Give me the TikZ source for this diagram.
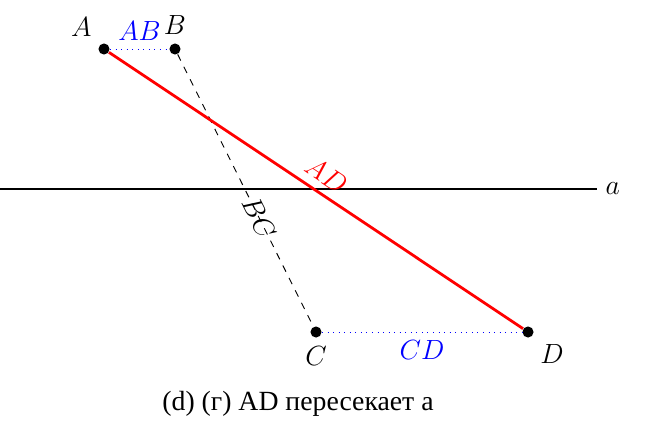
\documentclass[tikz,border=0pt]{standalone}
\usepackage{fontspec}
\newfontfamily\cyrfont{Liberation Serif}

\begin{document}
\begin{tikzpicture}[x=0.0152cm, y=-0.0152cm, font=\large,
  pointdot/.style={circle, fill=black, inner sep=0pt, minimum size=4.8pt}]
  \useasboundingbox (0,0) rectangle (661,429);

  \node (A) [pointdot, label={above left:$A$}] at (104, 49) {};
  \node (B) [pointdot, label={above:$B$}] at (175, 49) {};
  \node (C) [pointdot, label={below:$C$}] at (316, 332) {};
  \node (D) [pointdot, label={below right:$D$}] at (528, 332) {};

  \coordinate (a-start) at (0, 189);
  \coordinate (a-end) at (597, 189);
  \draw[thick] (a-start) -- (a-end) node (a-label) [right] {$a$};

  \draw[blue, dotted] (A) to node[midway, above] {$AB$} (B);
  \draw[dashed] (B) to node[pos=0.6, sloped] {$BC$} (C);
  \draw[blue, dotted] (C) to node[midway, below] {$CD$} (D);
  \draw[red, very thick] (A) to node[midway, above, sloped] {$AD$} (D);

  \node (caption) at (298, 404) {\cyrfont (d) (г) AD пересекает а};
\end{tikzpicture}
\end{document}
